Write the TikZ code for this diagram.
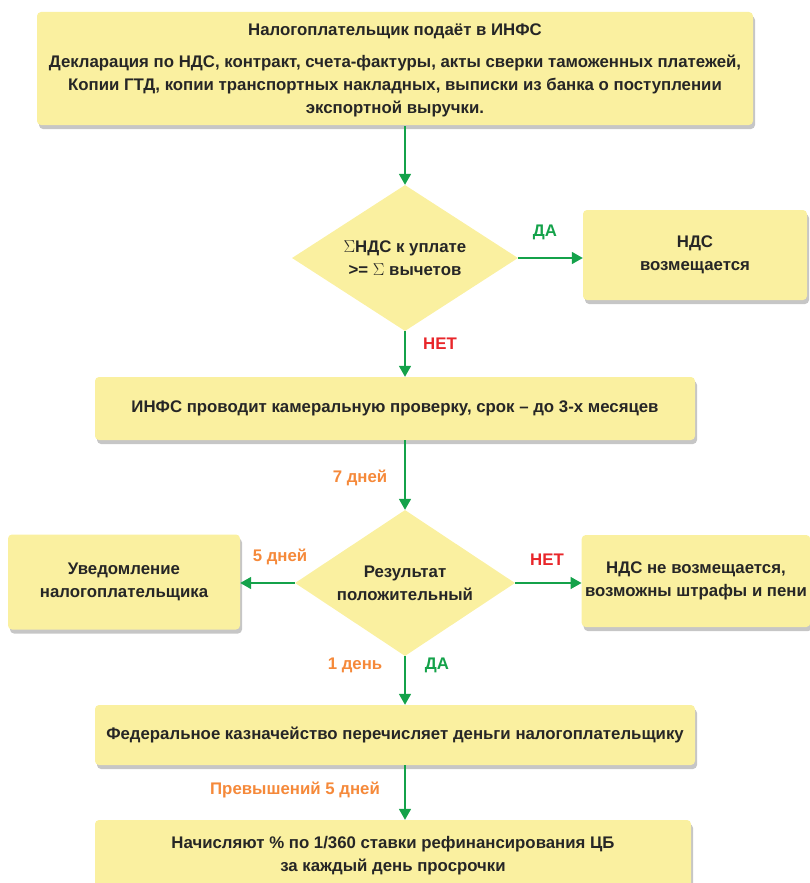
\documentclass[tikz,border=0pt]{standalone}
\usepackage{fontspec}
\setmainfont{Liberation Sans}
\usetikzlibrary{shapes.geometric,shadows,arrows.meta}
\definecolor{boxfill}{HTML}{FAF0A0}
\definecolor{arrgreen}{HTML}{14A24A}
\definecolor{lblorange}{HTML}{F5893A}
\definecolor{lblred}{HTML}{E8262A}
\tikzset{
  every node/.style={font=\fontsize{16.8}{23}\selectfont\bfseries, text=black!85},
  boxshape/.style={draw=none, fill=boxfill, rounded corners=4pt, align=center,
    drop shadow={opacity=0.45, shadow xshift=2pt, shadow yshift=-4pt}},
  decshape/.style={draw=none, fill=boxfill, diamond, aspect=1.55, align=center, inner sep=0pt},
  flow/.style={draw=arrgreen, line width=1.6pt, -{Triangle[length=11pt,width=12pt]}},
  lblo/.style={text=lblorange},
  lblr/.style={text=lblred},
  lblg/.style={text=arrgreen},
}
\begin{document}
\begin{tikzpicture}[x=1pt,y=-1pt]
\useasboundingbox (0,0) rectangle (809,883);
\node[boxshape, minimum width=716, minimum height=113] (b1) at (395,68.5)
  {\raisebox{0pt}[16pt][0pt]{}Налогоплательщик подаёт в ИНФС\\[9pt]
   Декларация по НДС, контракт, счета-фактуры, акты сверки таможенных платежей,\\
   Копии ГТД, копии транспортных накладных, выписки из банка о поступлении\\
   экспортной выручки.};
\node[decshape, minimum width=226, minimum height=146] (d1) at (405,258)
  {$\Sigma$НДС к уплате\\ >= $\Sigma$ вычетов};
\node[boxshape, minimum width=224, minimum height=90] (b2) at (695,255)
  {НДС\\возмещается};
\node[boxshape, minimum width=600, minimum height=63] (b3) at (395,408.5)
  {ИНФС проводит камеральную проверку, срок -- до 3-х месяцев};
\node[decshape, minimum width=220, minimum height=146] (d2) at (405,583)
  {Результат\\положительный};
\node[boxshape, minimum width=232, minimum height=95] (b4) at (124,582)
  {Уведомление\\налогоплательщика};
\node[boxshape, minimum width=226, minimum height=92] (b5) at (696,581)
  {НДС не возмещается,\\возможны штрафы и пени};
\node[boxshape, minimum width=600, minimum height=60] (b6) at (395,735)
  {Федеральное казначейство перечисляет деньги налогоплательщику};
\node[boxshape, minimum width=596, minimum height=72] (b7) at (393,856)
  {Начисляют \% по 1/360 ставки рефинансирования ЦБ\\за каждый день просрочки};

\coordinate (a1s) at (405,126);
\draw[flow] (a1s) -- (d1.north);
\draw[flow] (d1.east) -- (b2.west |- d1.east);
\node[lblg] (l1) at (545,232) {ДА};
\draw[flow] (d1.south) -- (d1.south |- b3.north);
\node[lblr] (l2) at (440,344) {НЕТ};
\draw[flow] (d1.south |- b3.south) -- (d2.north);
\node[lblo] (l3) at (360,478) {7 дней};
\draw[flow] (d2.west) -- (b4.east |- d2.west);
\node[lblo] (l4) at (280,557) {5 дней};
\draw[flow] (d2.east) -- (b5.west |- d2.east);
\node[lblr] (l5) at (547,560) {НЕТ};
\draw[flow] (d2.south) -- (d2.south |- b6.north);
\node[lblo] (l6) at (355,665) {1 день};
\node[lblg] (l7) at (437,665) {ДА};
\draw[flow] (d2.south |- b6.south) -- (d2.south |- b7.north);
\node[lblo] (l8) at (295,790) {Превышений 5 дней};
\end{tikzpicture}
\end{document}
